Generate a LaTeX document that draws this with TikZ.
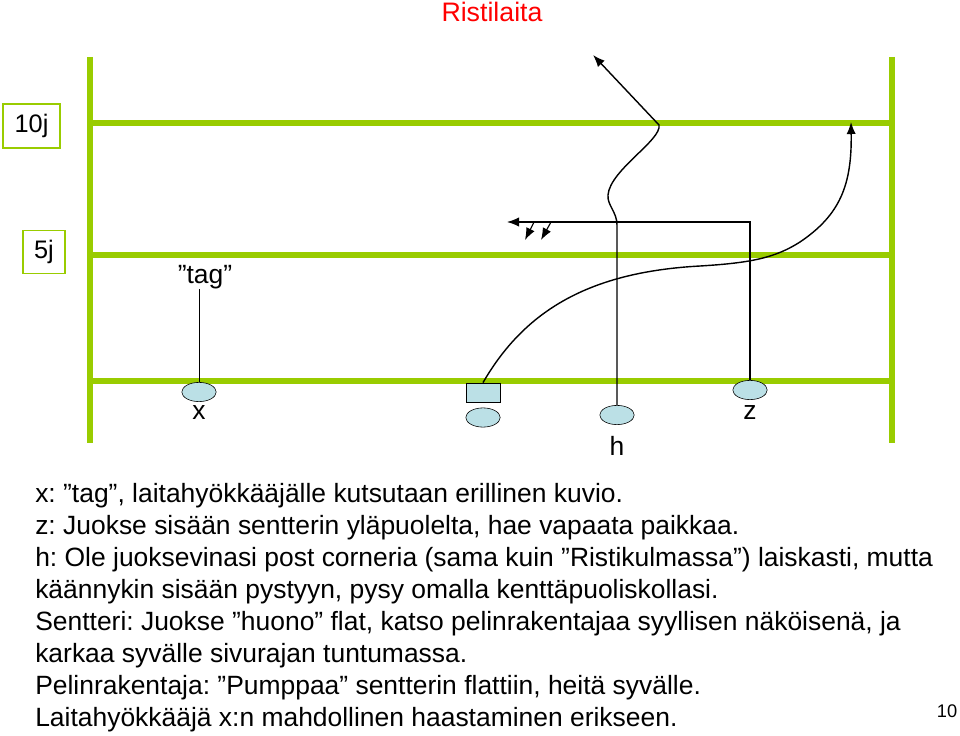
\documentclass[tikz,border=0pt]{standalone}
\usepackage{fontspec}
\setmainfont{Liberation Sans}
\usepackage{xcolor}
\usetikzlibrary{calc, shapes.geometric, positioning, arrows.meta}
\frenchspacing

\definecolor{kentta}{RGB}{153,204,0}
\definecolor{pelaajasini}{RGB}{187,224,230}

\begin{document}
\begin{tikzpicture}[>={Latex[length=3mm, width=2.3mm]}, x=0.025cm, y=-0.025cm,
    raja/.style={line width=3.6pt, color=kentta},
    pelaaja/.style={ellipse, draw, fill=pelaajasini, minimum width=0.86cm, minimum height=0.48cm, inner sep=0pt},
    teksti/.style={font=\fontsize{18.8}{22.8}\selectfont, inner sep=0pt},
    jaardi/.style={draw=kentta, line width=1pt, font=\fontsize{18}{20}\selectfont, inner sep=0pt}]
    \useasboundingbox (0,0) rectangle (960,736);

    % Otsikko
    \node[font=\fontsize{19}{21}\selectfont, text=red] (otsikko) at (492,12) {Ristilaita};

    % Kentän rajat ja jaardiviivat
    \draw[raja] (90,57) -- (90,443);
    \draw[raja] (892,57) -- (892,443);
    \draw[raja] (90,123) -- (892,123);
    \draw[raja] (90,255) -- (892,255);
    \draw[raja] (90,381) -- (892,381);

    % Jaardimerkit
    \node[jaardi, minimum width=1.42cm, minimum height=1.1cm] (kymmenen) at (31.5,126) {10j};
    \node[jaardi, minimum width=1.05cm, minimum height=1.07cm] (viisi) at (44,252) {5j};

    % Pelaajat
    \node[pelaaja] (x) at (199,392) {};
    \node[teksti] (xnimi) at (199,413) {x};
    \node[draw, fill=pelaajasini, minimum width=0.85cm, minimum height=0.48cm, inner sep=0pt] (sentteri) at (483,392.5) {};
    \node[pelaaja] (pelinrak) at (483,417.5) {};
    \node[pelaaja] (h) at (617,415) {};
    \node[teksti] (hnimi) at (617,446) {h};
    \node[pelaaja] (z) at (750,390) {};
    \node[teksti] (znimi) at (750,413) {z};

    % x: tag
    \node[teksti] (tag) at (205,277) {”tag”};
    \draw[line width=0.6pt] (x.north) -- (x.north |- tag.south);

    % Sentteri: flat ja syvälle
    \draw[->, line width=1pt] (sentteri.north) .. controls (525,310) and (590,272) .. (700,266)
        .. controls (750,263) and (775,258) .. (800,242)
        .. controls (840,215) and (852,185) .. (851,122);

    % h: post corneria
    \coordinate (hkaanne) at (659,125);
    \coordinate (hpaa) at (593,55);
    \draw[->, line width=1pt] (h.north) -- (617,225) .. controls (617,212) and (607,205) .. (608,195)
        .. controls (610,170) and (662,140) .. (hkaanne) -- (hpaa);

    % z: sisään
    \coordinate (zkulma) at (750,222);
    \coordinate (zpaa) at (507,222);
    \draw[->, line width=0.8pt] (z.north) -- (zkulma) -- (zpaa);
    \coordinate (n1) at (534,222);
    \coordinate (n1p) at (525,240);
    \coordinate (n2) at (551,222);
    \coordinate (n2p) at (541,240);
    \draw[->, line width=0.8pt] (n1) -- (n1p);
    \draw[->, line width=0.8pt] (n2) -- (n2p);

    % Selitykset
    \node[teksti, align=left, anchor=north west] (selitys) at (35,483) {x: ”tag”, laitahyökkääjälle kutsutaan erillinen kuvio.\\
        z: Juokse sisään sentterin yläpuolelta, hae vapaata paikkaa.\\
        h: Ole juoksevinasi post corneria (sama kuin ”Ristikulmassa”) laiskasti, mutta\\
        käännykin sisään pystyyn, pysy omalla kenttäpuoliskollasi.\\
        Sentteri: Juokse ”huono” flat, katso pelinrakentajaa syyllisen näköisenä, ja\\
        karkaa syvälle sivurajan tuntumassa.\\
        Pelinrakentaja: ”Pumppaa” sentterin flattiin, heitä syvälle.\\
        Laitahyökkääjä x:n mahdollinen haastaminen erikseen.};
    \node[font=\fontsize{13}{15}\selectfont] (sivu) at (947,711) {10};
\end{tikzpicture}
\end{document}
